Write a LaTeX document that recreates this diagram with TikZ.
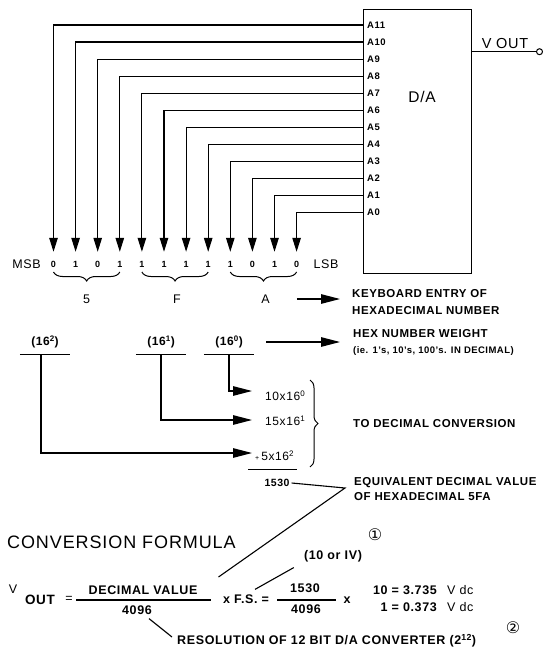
\documentclass[tikz,border=0pt]{standalone}
\usepackage{fontspec}
\setmainfont{Liberation Sans}[LetterSpace=5]
\newfontfamily\circfont{DejaVu Sans}
\usetikzlibrary{arrows.meta,calc,decorations.pathreplacing,positioning}

\begin{document}
\begin{tikzpicture}[
  x=1pt, y=-1pt,
  dabox/.style={draw, line width=1.1pt, minimum width=108.4pt, minimum height=264pt, inner sep=0pt},
  pinlabel/.style={font=\fontsize{9.5}{10}\selectfont\bfseries, anchor=west, inner sep=0pt},
  bit/.style={font=\fontsize{9}{10}\selectfont\bfseries, inner sep=0pt, minimum height=24pt},
  sidelabel/.style={font=\fontsize{12.5}{13}\selectfont, inner sep=0pt},
  hexdigit/.style={font=\fontsize{12.5}{13}\selectfont, inner sep=0pt},
  note/.style={font=\fontsize{11.5}{17}\selectfont\bfseries, anchor=west, align=left, inner sep=0pt},
  subnote/.style={font=\fontsize{9.5}{11}\selectfont\bfseries, anchor=west, inner sep=0pt},
  weight/.style={font=\fontsize{12}{13}\selectfont\bfseries, minimum width=50pt, minimum height=24pt, inner sep=0pt},
  term/.style={font=\fontsize{12}{13}\selectfont, anchor=west, inner sep=0pt},
  eqbold/.style={font=\fontsize{12.5}{13}\selectfont\bfseries, inner sep=0pt},
  eqtext/.style={font=\fontsize{12.5}{13}\selectfont, inner sep=0pt},
  circmark/.style={font=\fontsize{16}{17}\selectfont\circfont, inner sep=0pt},
  terminal/.style={draw, circle, line width=1pt, minimum size=6pt, inner sep=0pt},
  rule/.style={line width=1.1pt},
  wire/.style={-{Triangle[length=14pt,width=8.5pt]}, line width=1.1pt},
  bigarrow/.style={-{Triangle[length=19pt,width=9.5pt]}, line width=1.2pt},
  grpbrace/.style={decorate, decoration={brace, mirror, amplitude=9pt}, line width=1pt},
  sumbrace/.style={decorate, decoration={brace, amplitude=8pt}, line width=1pt}
]
\useasboundingbox (0,0) rectangle (542,647);

\def\pinX{367}
\def\bitY{264}

% -----------------------------------------------------------------------------
% D/A converter with its twelve inputs and the output terminal.
% -----------------------------------------------------------------------------
\node[dabox] (daBox) at (417.5,141.3) {};
\node[font=\fontsize{15.5}{16}\selectfont] (daLabel) at (422,97) {D/A};

\node[pinlabel] (pinA11) at (\pinX,25) {A11};
\node[pinlabel] (pinA10) at (\pinX,42.05) {A10};
\node[pinlabel] (pinA9) at (\pinX,59.1) {A9};
\node[pinlabel] (pinA8) at (\pinX,76.15) {A8};
\node[pinlabel] (pinA7) at (\pinX,93.2) {A7};
\node[pinlabel] (pinA6) at (\pinX,110.25) {A6};
\node[pinlabel] (pinA5) at (\pinX,127.3) {A5};
\node[pinlabel] (pinA4) at (\pinX,144.35) {A4};
\node[pinlabel] (pinA3) at (\pinX,161.4) {A3};
\node[pinlabel] (pinA2) at (\pinX,178.45) {A2};
\node[pinlabel] (pinA1) at (\pinX,195.5) {A1};
\node[pinlabel] (pinA0) at (\pinX,212.55) {A0};

\node[terminal] (vOutPin) at (539.5,51.7) {};
\node[font=\fontsize{14.5}{15}\selectfont, inner sep=0pt] (vOutLabel) at (505,44) {V OUT};
\draw[line width=1pt] (daBox.east |- vOutPin) -- (vOutPin.west);

% -----------------------------------------------------------------------------
% Keyboard entry 5FA, one bit per input line.
% -----------------------------------------------------------------------------
\node[bit] (bitA11) at (53.5,\bitY) {0};
\node[bit] (bitA10) at (75.6,\bitY) {1};
\node[bit] (bitA9) at (97.7,\bitY) {0};
\node[bit] (bitA8) at (119.8,\bitY) {1};
\node[bit] (bitA7) at (141.9,\bitY) {1};
\node[bit] (bitA6) at (164.0,\bitY) {1};
\node[bit] (bitA5) at (186.1,\bitY) {1};
\node[bit] (bitA4) at (208.2,\bitY) {1};
\node[bit] (bitA3) at (230.3,\bitY) {1};
\node[bit] (bitA2) at (252.4,\bitY) {0};
\node[bit] (bitA1) at (274.5,\bitY) {1};
\node[bit] (bitA0) at (296.6,\bitY) {0};

\node[sidelabel, left=10pt of bitA11] (msbLabel) {MSB};
\node[sidelabel, right=14pt of bitA0] (lsbLabel) {LSB};

\draw[wire] (daBox.west |- pinA11) -| (bitA11.north);
\draw[wire] (daBox.west |- pinA10) -| (bitA10.north);
\draw[wire] (daBox.west |- pinA9) -| (bitA9.north);
\draw[wire] (daBox.west |- pinA8) -| (bitA8.north);
\draw[wire] (daBox.west |- pinA7) -| (bitA7.north);
\draw[wire] (daBox.west |- pinA6) -| (bitA6.north);
\draw[wire] (daBox.west |- pinA5) -| (bitA5.north);
\draw[wire] (daBox.west |- pinA4) -| (bitA4.north);
\draw[wire] (daBox.west |- pinA3) -| (bitA3.north);
\draw[wire] (daBox.west |- pinA2) -| (bitA2.north);
\draw[wire] (daBox.west |- pinA1) -| (bitA1.north);
\draw[wire] (daBox.west |- pinA0) -| (bitA0.north);

\draw[grpbrace] ($(bitA11)+(0,8)$) -- ($(bitA8)+(0,8)$);
\draw[grpbrace] ($(bitA7)+(0,8)$) -- ($(bitA4)+(0,8)$);
\draw[grpbrace] ($(bitA3)+(0,8)$) -- ($(bitA0)+(0,8)$);

\node[hexdigit] (hexFive) at ($(bitA11)!0.5!(bitA8)+(0,35)$) {5};
\node[hexdigit] (hexF) at ($(bitA7)!0.5!(bitA4)+(2,35)$) {F};
\node[hexdigit] (hexA) at ($(bitA3)!0.5!(bitA0)+(2,35)$) {A};

\node[note] (kbdNote) at (352,302.5) {KEYBOARD ENTRY OF\\HEXADECIMAL NUMBER};
\draw[bigarrow] ([xshift=27pt]hexA.east) -- ([xshift=-12pt]kbdNote.west |- hexA);

% -----------------------------------------------------------------------------
% Hex digit weights and the decimal sum.
% -----------------------------------------------------------------------------
\node[weight] (wtTwo) at (45,342) {(16\textsuperscript{2})};
\node[weight] (wtOne) at (161,342) {(16\textsuperscript{1})};
\node[weight] (wtZero) at (229,342) {(16\textsuperscript{0})};
\draw[rule] (wtTwo.south west) -- (wtTwo.south east);
\draw[rule] (wtOne.south west) -- (wtOne.south east);
\draw[rule] (wtZero.south west) -- (wtZero.south east);

\node[note] (hexNote) at (353,334) {HEX NUMBER WEIGHT};
\node[subnote] (hexSubNote) at (353,351) {(ie. 1's, 10's, 100's. IN DECIMAL)};
\draw[bigarrow] ([xshift=12pt]wtZero.east) -- ([xshift=-13pt]hexNote.west |- wtZero);

\node[term] (termZero) at (265,396) {10x16\textsuperscript{0}};
\node[term] (termOne) at (265,421) {15x16\textsuperscript{1}};
\node[term] (termTwo) at (255,456) {{\fontsize{7}{7}\selectfont+}\,5x16\textsuperscript{2}};

\draw[bigarrow] (wtZero.south) |- ([xshift=-13pt,yshift=5pt]termZero.west);
\draw[bigarrow] (wtOne.south) |- ([xshift=-13pt,yshift=1pt]termOne.west);
\draw[bigarrow] ([xshift=-4pt]wtTwo.south) |- ([xshift=-3pt,yshift=3pt]termTwo.west);

\draw[rule] ([xshift=-7pt,yshift=-8pt]termTwo.south west) -- ([xshift=3pt,yshift=-8pt]termTwo.south east);
\coordinate (sumTop) at (310,380);
\coordinate (sumBottom) at (310,467);
\draw[sumbrace] (sumTop) -- (sumBottom);

\node[note] (convNote) at (353,424) {TO DECIMAL CONVERSION};

% -----------------------------------------------------------------------------
% Decimal result and the conversion formula.
% -----------------------------------------------------------------------------
\node[font=\fontsize{10.5}{11}\selectfont\bfseries, inner sep=0pt] (decResult) at (277,483) {1530};
\node[note, font=\fontsize{11.5}{14.5}\selectfont\bfseries] (equivNote) at (354,489) {EQUIVALENT DECIMAL VALUE\\OF HEXADECIMAL 5FA};
\coordinate (equivVertex) at (345,488);
\coordinate (equivEnd) at (218.5,577);
\draw[rule] ([xshift=2pt]decResult.east) -- (equivVertex) -- (equivEnd);

\node[font=\fontsize{18}{19}\selectfont, anchor=west, inner sep=0pt] (convTitle) at (7,542) {CONVERSION FORMULA};
\node[circmark] (markOne) at (375,535) {①};
\node[circmark] (markTwo) at (513,628) {②};

\node[eqtext] (vSym) at (13,589) {V};
\node[eqbold, font=\fontsize{13.5}{14}\selectfont\bfseries] (vSub) at (40,600) {OUT};
\node[eqtext] (eqSign) at (69,599) {=};
\node[eqbold] (decValue) at (143,590) {DECIMAL VALUE};
\node[eqbold] (decDen) at (137,610) {4096};
\draw[rule] (76,600) -- (211,600);

\node[eqbold] (fsText) at (246,599) {x F.S. =};
\node[eqbold] (fsValue) at (333,556.5) {(10 or IV)};
\draw[rule] ([xshift=9pt,yshift=5pt]fsText.north) -- ([xshift=-10pt,yshift=-5pt]fsValue.south west);

\node[eqbold] (numVal) at (305,588) {1530};
\node[eqbold] (denVal) at (306,609) {4096};
\draw[rule] (277,600) -- (336,600);
\node[eqbold] (timesSign) at (347,600) {x};

\node[eqbold, anchor=east] (resTen) at (437,590) {10 = 3.735};
\node[eqtext, anchor=west] (unitTen) at (447,590) {V dc};
\node[eqbold, anchor=east] (resOne) at (437,607) {1 = 0.373};
\node[eqtext, anchor=west] (unitOne) at (447,607) {V dc};

\node[eqbold, anchor=west] (resNote) at (177,641) {RESOLUTION OF 12 BIT D/A CONVERTER (2\textsuperscript{12})};
\draw[rule] ([xshift=-3pt,yshift=-4pt]decDen.south east) -- ([xshift=-5pt,yshift=4pt]resNote.west);

\end{tikzpicture}
\end{document}
